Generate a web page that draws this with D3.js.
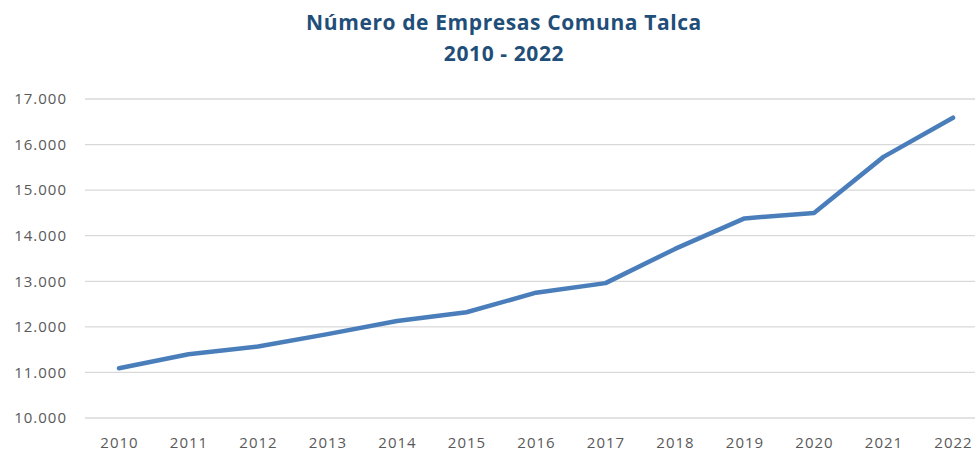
<!DOCTYPE html>
<html><head><meta charset="utf-8">
<script src="https://cdn.jsdelivr.net/npm/d3@7"></script>
<style>body{margin:0;background:#fff;}svg{display:block;}</style>
</head><body>
<svg id="c" width="977" height="453"></svg>
<script>
const years = ["2010","2011","2012","2013","2014","2015","2016","2017","2018","2019","2020","2021","2022"];
const empresas = [11090,11400,11570,11840,12130,12320,12750,12960,13710,14380,14500,15730,16590];
const yTicks = [10000,11000,12000,13000,14000,15000,16000,17000];
const titleLines = ["Número de Empresas Comuna Talca","2010 - 2022"];

const svg = d3.select("#c");
const font = "'Open Sans', 'Noto Sans', sans-serif";
const x = d3.scalePoint().domain(years).range([119, 953]);
const y = d3.scaleLinear().domain([10000,17000]).range([418, 99]);
const fmt = d => d3.format(",")(d).replace(/,/g, ".");

// gridlines
svg.append("g").selectAll("line").data(yTicks).join("line")
  .attr("x1", 85).attr("x2", 975)
  .attr("y1", d => y(d)).attr("y2", d => y(d))
  .attr("stroke", "#d9d9d9").attr("stroke-width", 1.3);

// y labels
const yAxis = svg.append("g").attr("transform", "translate(67,0)")
  .call(d3.axisLeft(y).tickValues(yTicks).tickFormat(fmt).tickSize(0).tickPadding(0));
yAxis.select(".domain").remove();
yAxis.selectAll("text").attr("fill", "#595959").style("font-family", font)
  .style("font-size", "15px").style("letter-spacing", "1px");

// x labels
const xAxis = svg.append("g").attr("transform", "translate(0,437)")
  .call(d3.axisBottom(x).tickSize(0).tickPadding(0));
xAxis.select(".domain").remove();
xAxis.selectAll("text").attr("fill", "#595959").style("font-family", font)
  .style("font-size", "15px").style("letter-spacing", "1px");

// line
svg.append("path").datum(empresas)
  .attr("fill", "none").attr("stroke", "#4a7ebb").attr("stroke-width", 4.5)
  .attr("stroke-linejoin", "round").attr("stroke-linecap", "round")
  .attr("d", d3.line().x((d,i) => x(years[i])).y(d => y(d)));

// title
svg.append("g").selectAll("text").data(titleLines).join("text")
  .attr("x", 504).attr("y", (d,i) => 30 + i*31)
  .attr("text-anchor", "middle")
  .attr("fill", "#1f4e79").style("font-family", font).style("font-weight", "bold")
  .style("font-size", "21px").style("letter-spacing", "0.6px")
  .text(d => d);
</script>
</body></html>
